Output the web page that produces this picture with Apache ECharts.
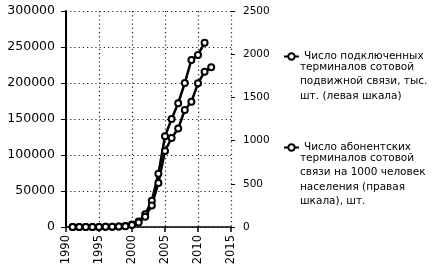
<!DOCTYPE html>
<html><head><meta charset="utf-8">
<script src="https://cdn.jsdelivr.net/npm/echarts@6/dist/echarts.min.js"></script>
<style>html,body{margin:0;padding:0;background:#fff}#c{width:441px;height:275px}</style>
</head><body><div id="c"></div>
<script>
var xTicks = [1990, 2015, 5];
var leftTicks = [0, 300000, 50000];
var rightTicks = [0, 2500, 500];
var years1 = [1991,1992,1993,1994,1995,1996,1997,1998,1999,2000,2001,2002,2003,2004,2005,2006,2007,2008,2009,2010,2011];
var subscribers = [0,0,0,0,100,200,500,700,1400,3300,7800,17600,36500,74000,126000,150000,172000,200000,232000,239000,256000];
var years2 = [1991,1992,1993,1994,1995,1996,1997,1998,1999,2000,2001,2002,2003,2004,2005,2006,2007,2008,2009,2010,2011,2012];
var per1000 = [0,0,0,0,1,2,3,5,9,22,53,120,250,510,880,1030,1140,1354,1450,1663,1797,1848];
var legend1Lines = ['Число подключенных','терминалов сотовой','подвижной связи, тыс.','шт. (левая шкала)'];
var legend2Lines = ['Число абонентских','терминалов сотовой','связи на 1000 человек','населения (правая','шкала), шт.'];
var name1 = legend1Lines.join(' ');
var name2 = legend2Lines.join(' ');

function pairs(xs, ys){ return xs.map(function(x,i){ return [x, ys[i]]; }); }
function plain(v){ return String(v); }

var chart = echarts.init(document.getElementById('c'));
var font = 'DejaVu Sans';
var dotted = {color:'#222', width:1.2, type:[1.2,3]};
var seriesStyle = {
  type:'line', symbol:'emptyCircle', symbolSize:6,
  lineStyle:{color:'#000', width:2.5},
  itemStyle:{color:'#000', borderColor:'#000', borderWidth:1.3},
  animation:false, z:5
};
chart.setOption({
  backgroundColor:'#fff',
  grid:{left:66, right:210, top:11, bottom:48},
  xAxis:{type:'value', min:xTicks[0], max:xTicks[1], interval:xTicks[2],
    axisLine:{lineStyle:{color:'#000', width:1.5}},
    axisTick:{length:5, lineStyle:{color:'#000', width:1.5}},
    axisLabel:{rotate:90, color:'#000', fontFamily:font, fontSize:11.5, margin:8, formatter:plain},
    splitLine:{show:true, lineStyle:dotted}},
  yAxis:[
    {type:'value', min:leftTicks[0], max:leftTicks[1], interval:leftTicks[2],
     axisLine:{show:true, lineStyle:{color:'#000', width:2}},
     axisTick:{show:true, length:5, lineStyle:{color:'#000'}},
     axisLabel:{color:'#000', fontFamily:font, fontSize:12.5, margin:11, formatter:plain},
     splitLine:{show:true, lineStyle:dotted}},
    {type:'value', min:rightTicks[0], max:rightTicks[1], interval:rightTicks[2], position:'right',
     axisLine:{show:false},
     axisTick:{show:true, length:4, lineStyle:{color:'#000'}},
     axisLabel:{color:'#000', fontFamily:font, fontSize:10.5, margin:12, formatter:plain},
     splitLine:{show:false}}
  ],
  legend:[
    {left:278, top:46, itemWidth:15, itemHeight:8, data:[name1],
     formatter:function(){return legend1Lines[0];},
     textStyle:{fontFamily:font, fontSize:10.5, color:'#000'}},
    {left:278, top:137, itemWidth:15, itemHeight:8, data:[name2],
     formatter:function(){return legend2Lines[0];},
     textStyle:{fontFamily:font, fontSize:10.5, color:'#000'}}
  ],
  graphic:[
    {type:'text', left:300, top:60, style:{text:legend1Lines.slice(1).join('\n'), font:'10.5px "DejaVu Sans"', fill:'#000', lineHeight:14.5}},
    {type:'text', left:300, top:151, style:{text:legend2Lines.slice(1).join('\n'), font:'10.5px "DejaVu Sans"', fill:'#000', lineHeight:14.5}}
  ],
  series:[
    Object.assign({name:name1, yAxisIndex:0, data:pairs(years1, subscribers)}, seriesStyle),
    Object.assign({name:name2, yAxisIndex:1, data:pairs(years2, per1000)}, seriesStyle)
  ]
});
</script></body></html>
